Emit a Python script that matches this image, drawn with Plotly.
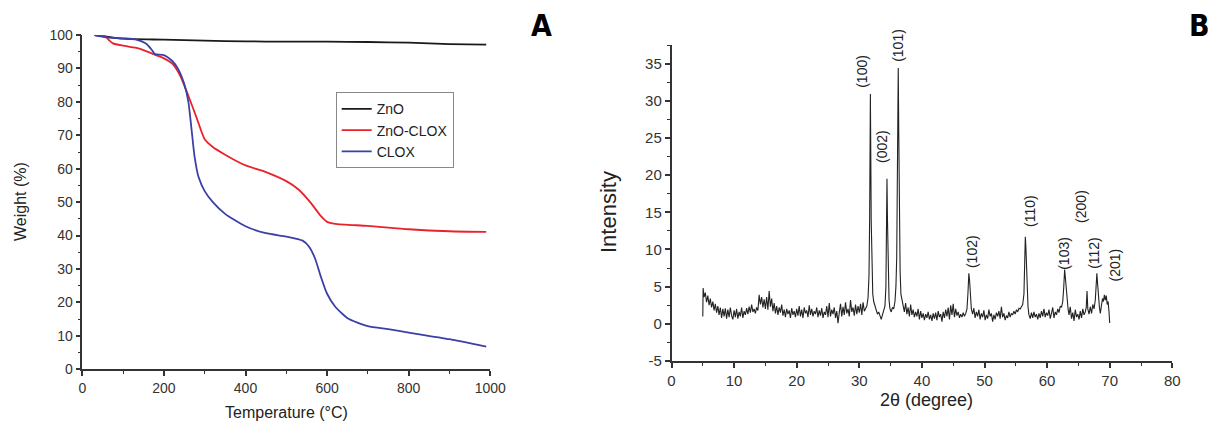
import plotly.graph_objects as go

W, H = 1216, 421

# ---------------- TGA data (panel A) ----------------
zno_T = [30, 100, 200, 300, 400, 500, 600, 700, 800, 900, 990]
zno_w = [100.0, 98.9, 98.6, 98.3, 98.1, 98.0, 98.0, 97.9, 97.7, 97.3, 97.1]

zclox_T = [30, 55, 65, 75, 100, 130, 150, 180, 200, 220, 240, 260, 280, 300, 320, 350,
           400, 450, 500, 530, 560, 585, 600, 620, 700, 800, 900, 990]
zclox_w = [100.0, 99.7, 98.5, 97.5, 96.8, 96.2, 95.5, 94.0, 93.0, 91.5, 87.8, 81.8, 75.3, 68.8,
           66.5, 64.2, 61.0, 59.0, 56.3, 53.8, 49.8, 45.8, 44.1, 43.5, 42.9, 41.9, 41.3, 41.1]

clox_T = [30, 60, 100, 130, 155, 170, 178, 200, 220, 235, 250, 260, 268, 275, 285, 300, 320,
          350, 400, 450, 500, 540, 555, 570, 585, 600, 620, 650, 700, 750, 800, 900, 990]
clox_w = [100.0, 99.3, 99.0, 98.7, 97.5, 95.6, 94.3, 94.0, 92.3, 89.8, 85.3, 80.0, 71.5, 63.8,
          57.5, 53.3, 50.0, 46.5, 42.8, 40.7, 39.7, 38.5, 36.8, 33.3, 27.6, 22.6, 18.7, 15.3,
          12.9, 12.0, 11.0, 9.0, 6.8]

# ---------------- XRD data (panel B) ----------------
xrd_2theta = [
    5.0, 5.05, 5.2, 5.4, 5.6, 5.8, 6.0, 6.2, 6.4, 6.6, 6.8, 7.0, 7.2, 7.4, 7.6, 7.8,
    8.0, 8.2, 8.4, 8.6, 8.8, 9.0, 9.2, 9.4, 9.6, 9.8, 10.0, 10.2, 10.4, 10.6, 10.8,
    11.0, 11.2, 11.4, 11.6, 11.8, 12.0, 12.2, 12.4, 12.6, 12.8, 13.0, 13.2, 13.4, 13.6, 13.8,
    14.0, 14.2, 14.4, 14.6, 14.8, 15.0, 15.2, 15.4, 15.6, 15.8, 16.0, 16.2, 16.4, 16.6, 16.8,
    17.0, 17.2, 17.4, 17.6, 17.8, 18.0, 18.2, 18.4, 18.6, 18.8, 19.0, 19.2, 19.4, 19.6, 19.8,
    20.0, 20.2, 20.4, 20.6, 20.8, 21.0, 21.2, 21.4, 21.6, 21.8, 22.0, 22.2, 22.4, 22.6, 22.8,
    23.0, 23.2, 23.4, 23.6, 23.8, 24.0, 24.2, 24.4, 24.6, 24.8, 25.0, 25.2, 25.4, 25.6, 25.8,
    26.0, 26.2, 26.4, 26.6, 26.8, 27.0, 27.2, 27.4, 27.6, 27.8, 28.0, 28.2, 28.4, 28.6, 28.8,
    29.0, 29.2, 29.4, 29.6, 29.8, 30.0, 30.2, 30.4, 30.6, 30.8, 31.0, 31.2, 31.4,
    31.55, 31.65, 31.72, 31.77, 31.82, 31.9, 32.0, 32.15, 32.3, 32.5, 32.7, 32.9,
    33.1, 33.3, 33.5, 33.7, 33.9, 34.1, 34.25, 34.35, 34.42, 34.5, 34.6, 34.75, 34.9,
    35.1, 35.3, 35.5, 35.7, 35.85, 35.98, 36.08, 36.16, 36.22, 36.3, 36.4, 36.52, 36.65, 36.8,
    37.0, 37.2, 37.4, 37.6, 37.8, 38.0, 38.2, 38.4, 38.6, 38.8, 39.0, 39.2, 39.4, 39.6, 39.8,
    40.0, 40.2, 40.4, 40.6, 40.8, 41.0, 41.2, 41.4, 41.6, 41.8, 42.0, 42.2, 42.4, 42.6, 42.8,
    43.0, 43.2, 43.4, 43.6, 43.8, 44.0, 44.2, 44.4, 44.6, 44.8, 45.0, 45.2, 45.4, 45.6, 45.8,
    46.0, 46.2, 46.4, 46.6, 46.8, 47.0, 47.2, 47.35, 47.5, 47.62, 47.75, 47.9,
    48.1, 48.3, 48.5, 48.7, 48.9, 49.1, 49.3, 49.5, 49.7, 49.9, 50.1, 50.3, 50.5, 50.7, 50.9,
    51.1, 51.3, 51.5, 51.7, 51.9, 52.1, 52.3, 52.5, 52.7, 52.9, 53.1, 53.3, 53.5, 53.7, 53.9,
    54.1, 54.3, 54.5, 54.7, 54.9, 55.1, 55.3, 55.5, 55.7, 55.9, 56.1, 56.3,
    56.42, 56.52, 56.6, 56.7, 56.82, 56.95, 57.1, 57.3, 57.5, 57.7, 57.9,
    58.1, 58.3, 58.5, 58.7, 58.9, 59.1, 59.3, 59.5, 59.7, 59.9, 60.1, 60.3, 60.5, 60.7, 60.9,
    61.1, 61.3, 61.5, 61.7, 61.9, 62.1, 62.3, 62.5, 62.65, 62.8, 62.92, 63.05, 63.2, 63.35,
    63.5, 63.7, 63.9, 64.1, 64.3, 64.5, 64.7, 64.9, 65.1, 65.3, 65.5, 65.7, 65.9,
    66.1, 66.25, 66.38, 66.5, 66.7, 66.9, 67.1, 67.3, 67.5, 67.7, 67.85, 67.95, 68.05, 68.2,
    68.35, 68.5, 68.7, 68.85, 69.0, 69.15, 69.3, 69.45, 69.6, 69.75, 69.9, 70.0]
xrd_intensity = [
    1.0, 4.8, 3.6, 4.2, 2.9, 3.8, 2.5, 3.4, 2.2, 3.0, 1.8, 2.7, 1.5, 2.4, 1.2, 2.2,
    0.8, 2.0, 1.0, 2.1, 0.7, 1.9, 0.9, 2.2, 1.1, 0.6, 1.8, 0.9, 2.0, 0.7, 1.6,
    1.0, 2.2, 0.8, 1.7, 1.2, 2.1, 1.3, 2.3, 1.5, 2.6, 1.6, 2.0, 1.4, 2.2, 1.8,
    3.9, 2.6, 3.6, 2.2, 3.3, 2.0, 3.6, 1.9, 4.4, 2.3, 3.4, 1.7, 2.8, 1.4, 2.4,
    1.2, 2.2, 1.5, 2.6, 1.1, 1.9, 0.9, 2.0, 1.3, 1.8, 0.8, 2.1, 1.2, 1.7, 0.9,
    2.0, 1.1, 2.4, 1.0, 1.9, 0.8, 2.2, 1.4, 1.8, 0.9, 2.5, 1.2, 2.0, 1.0, 1.7,
    1.3, 2.2, 0.9, 1.8, 1.1, 2.1, 0.8, 1.6, 1.2, 2.4, 0.9, 2.8, 1.0, 1.9, 1.3,
    2.2, 0.8, 1.7, 0.1, 1.5, 2.7, 1.0, 2.3, 1.2, 2.9, 1.4, 2.0, 1.0, 3.2, 1.6,
    2.2, 1.1, 2.6, 1.3, 2.4, 1.5, 2.7, 1.2, 2.9, 1.7, 2.2, 2.4, 3.5,
    6.5, 14.0, 24.0, 30.9, 25.0, 14.0, 7.0, 4.0, 3.0, 2.4, 2.0, 1.3,
    1.6, 0.9, 0.6, 1.2, 1.7, 2.4, 5.0, 11.0, 19.5, 14.0, 6.0, 3.2, 2.0,
    1.6, 2.2, 2.0, 3.0, 5.0, 9.0, 18.0, 28.0, 34.4, 26.0, 15.0, 7.0, 4.0, 3.3,
    2.2, 1.6, 2.8, 1.3, 2.2, 1.0, 2.6, 1.2, 1.9, 0.9, 1.6, 1.0, 2.0, 0.6, 1.7,
    0.8, 1.4, 0.5, 1.3, 0.8, 1.6, 0.6, 1.2, 0.4, 1.4, 0.7, 1.5, 0.5, 1.7, 0.9,
    1.3, 0.3, 1.6, 0.8, 1.9, 1.0, 2.2, 0.6, 2.5, 1.2, 2.7, 0.9, 2.0, 1.1, 1.6,
    0.8, 1.3, 0.9, 1.5, 1.0, 1.4, 2.0, 4.0, 6.8, 5.8, 3.5, 2.0,
    1.3, 2.1, 0.8, 1.6, 1.0, 1.9, 0.6, 1.4, 0.9, 1.8, 0.5, 1.2, 0.7, 1.9, 1.0,
    1.4, 0.3, 1.2, 0.6, 1.5, 1.0, 1.7, 0.7, 2.3, 0.9, 1.4, 0.5, 1.1, 0.8, 1.6,
    0.9, 1.4, 1.2, 1.7, 1.3, 1.9, 1.6, 2.1, 2.0, 2.3, 2.6, 4.0,
    7.5, 11.7, 10.5, 7.0, 4.0, 2.3, 1.2, 0.7, 1.5, 0.8, 1.6,
    0.9, 1.3, 0.6, 1.4, 0.8, 1.7, 1.0, 2.0, 0.9, 1.5, 1.1, 1.9, 0.7, 1.4, 2.2,
    0.8, 1.6, 1.2, 2.0, 1.5, 2.4, 2.2, 3.0, 4.8, 7.3, 6.2, 4.5, 3.4, 2.0,
    1.2, 2.3, 0.7, 1.5, 0.4, 1.9, 0.9, 1.3, 0.6, 1.7, 0.8, 2.0, 1.2,
    1.6, 2.2, 4.4, 2.0, 1.3, 2.3, 1.4, 2.6, 2.0, 3.2, 5.5, 6.8, 5.6, 3.5,
    2.3, 1.4, 2.5, 3.4, 3.0, 3.9, 3.2, 3.8, 2.6, 3.0, 1.5, 0.1]

peak_labels = ["(100)", "(002)", "(101)", "(102)", "(110)", "(103)", "(200)", "(112)", "(201)"]
peak_label_x = [30.4, 33.6, 36.2, 47.9, 57.3, 62.8, 65.5, 67.6, 70.9]
peak_label_y = [34.0, 23.9, 37.4, 9.7, 15.2, 9.5, 15.8, 9.5, 7.9]

xrd_y_tickvals = [-5, 0, 5, 10, 15, 20, 25, 30, 35]
xrd_y_ticktext = ["-5", "0", "5", "10", "15", "20", "25", "30", "35"]

# ---------------- figure ----------------
FONT = "Liberation Sans, Arial, sans-serif"
fig = go.Figure()

fig.add_trace(go.Scatter(x=zno_T, y=zno_w, mode="lines", name="ZnO",
                         line=dict(color="#1a1a1a", width=1.8, shape="spline", smoothing=0.6),
                         xaxis="x", yaxis="y"))
fig.add_trace(go.Scatter(x=zclox_T, y=zclox_w, mode="lines", name="ZnO-CLOX",
                         line=dict(color="#e8232b", width=1.8, shape="spline", smoothing=0.6),
                         xaxis="x", yaxis="y"))
fig.add_trace(go.Scatter(x=clox_T, y=clox_w, mode="lines", name="CLOX",
                         line=dict(color="#3b40a6", width=1.8, shape="spline", smoothing=0.6),
                         xaxis="x", yaxis="y"))
fig.add_trace(go.Scatter(x=xrd_2theta, y=xrd_intensity, mode="lines", showlegend=False,
                         line=dict(color="#222222", width=1.1),
                         xaxis="x2", yaxis="y2"))

OFF = 8  # page body margin

def px_x(p):
    return (p - OFF) / W

def px_y(p):
    return 1 - (p - OFF) / H

def axis_style(size):
    return dict(showgrid=False, zeroline=False, showline=True, linecolor="#333333",
                linewidth=1.5, ticks="outside", ticklen=5, tickwidth=1.5, tickcolor="#333333",
                tickfont=dict(family=FONT, size=size, color="#333333"), mirror=False,
                automargin=False)

MINOR = dict(ticks="outside", ticklen=3, tickwidth=1.2, tickcolor="#333333")

fig.update_layout(
    template="none",
    width=W, height=H,
    margin=dict(l=0, r=0, t=0, b=0, pad=0),
    paper_bgcolor="white", plot_bgcolor="white",
    font=dict(family=FONT, color="#333333"),
    xaxis=dict(domain=[px_x(82.3), px_x(490.3)], range=[0, 1000], dtick=200,
               minor=dict(dtick=100, **MINOR), anchor="y", **axis_style(14)),
    yaxis=dict(domain=[px_y(369.3), px_y(35)], range=[0, 100], dtick=10,
               minor=dict(dtick=5, **MINOR), anchor="x", **axis_style(14)),
    xaxis2=dict(domain=[px_x(671.5), px_x(1172.3)], range=[0, 80], dtick=10,
                minor=dict(dtick=5, **MINOR), anchor="y2", **axis_style(15)),
    yaxis2=dict(domain=[px_y(361), px_y(45)], range=[-5, 37.5],
                tickmode="array", tickvals=xrd_y_tickvals, ticktext=xrd_y_ticktext,
                minor=dict(dtick=2.5, tick0=0, **MINOR), anchor="x2", **axis_style(15)),
    showlegend=True,
    legend=dict(x=px_x(335.7), y=px_y(92.3), xanchor="left", yanchor="top",
                bordercolor="#888888", borderwidth=1, bgcolor="white",
                font=dict(family=FONT, size=14, color="#222222"),
                tracegroupgap=0, itemwidth=30),
)

def paper_text(text, x, y, size, angle=0, family=FONT, color="#222222"):
    return dict(text=text, x=px_x(x), y=px_y(y), xref="paper", yref="paper",
                xanchor="center", yanchor="middle", showarrow=False, textangle=angle,
                font=dict(family=family, size=size, color=color))

BOLD_FAMILY = "Liberation Sans Narrow, DejaVu Sans Condensed, sans-serif"
annotations = [
    paper_text("Temperature (°C)", 286, 412, 16),
    paper_text("Weight (%)", 20, 202, 16, angle=-90),
    paper_text("2θ (degree)", 926, 400, 18),
    paper_text("Intensity", 608, 212, 22, angle=-90),
    paper_text("<b>A</b>", 541, 25, 30, family=BOLD_FAMILY, color="#000000"),
    paper_text("<b>B</b>", 1199, 25, 30, family=BOLD_FAMILY, color="#000000"),
]
for lab, lx, ly in zip(peak_labels, peak_label_x, peak_label_y):
    annotations.append(dict(text=lab, x=lx, y=ly, xref="x2", yref="y2", showarrow=False,
                            xanchor="center", yanchor="middle",
                            textangle=-90, font=dict(family=FONT, size=14, color="#222222")))
fig.update_layout(annotations=annotations)

fig.write_html("out.html")
